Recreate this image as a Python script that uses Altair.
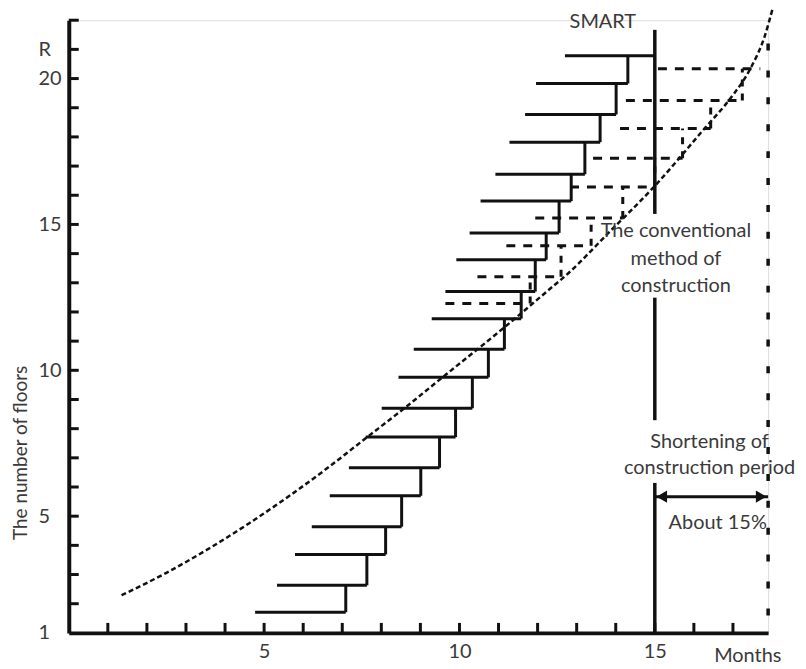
import altair as alt
import pandas as pd

# ---- data ----
# SMART staircase: one horizontal segment per floor (months start/end)
smart_floor = [1.71, 2.63, 3.69, 4.64, 5.70, 6.66, 7.71, 8.70, 9.76, 10.72,
               11.77, 12.70, 13.79, 14.71, 15.80, 16.72, 17.82, 18.77, 19.83, 20.78]
smart_start = [4.77, 5.33, 5.79, 6.22, 6.68, 7.17, 7.60, 8.01, 8.44, 8.83,
               9.29, 9.64, 9.92, 10.26, 10.54, 10.92, 11.28, 11.68, 11.96, 12.70]
smart_end = [7.09, 7.63, 8.11, 8.52, 9.01, 9.49, 9.90, 10.33, 10.74, 11.15,
             11.58, 11.94, 12.22, 12.55, 12.86, 13.21, 13.60, 14.01, 14.31, 15.0]

# Conventional staircase (dashed)
conv_floor = [12.29, 13.21, 14.27, 15.22, 16.28, 17.27, 18.29, 19.25, 20.34]
conv_start = [9.64, 10.46, 11.20, 11.94, 12.83, 13.42, 14.11, 14.26, 15.08]
conv_end = [11.81, 12.60, 13.37, 14.18, 15.0, 15.71, 16.43, 17.24, 17.70]

# Conventional method curve (dashed)
curve_month = [1.35, 2.50, 3.60, 4.62, 5.64, 6.66, 7.60, 8.57, 9.64, 11.12,
               12.27, 12.78, 13.80, 15.0, 16.28, 16.94, 17.45, 17.81, 18.01]
curve_floor = [2.29, 3.06, 3.90, 4.76, 5.69, 6.69, 7.67, 8.68, 9.84, 11.44,
               12.74, 13.32, 14.69, 16.32, 18.30, 19.33, 20.35, 21.44, 22.37]

# SMART completion line (month 15) segments, conventional completion (17.9)
smart_done = 15.0
smart_line_from = [21.67, 12.49, 6.14]
smart_line_to = [15.36, 8.29, 1.0]
conv_done = 17.9
conv_line_top = 21.2
arrow_floor = 5.67

x_tick_months = list(range(1, 18))
y_tick_floors = list(range(2, 23))
y_label_values = [1, 5, 10, 15, 20, 21]
x_label_values = [5, 10, 15]

texts = ["SMART", "The conventional", "method of", "construction",
         "Shortening of", "construction period", "About 15%", "Months"]
text_month = [13.67, 15.54, 15.54, 15.54, 16.40, 16.40, 16.61, 17.38]
text_floor = [21.95, 14.78, 13.82, 12.90, 7.54, 6.66, 4.78, 0.20]

# ---- build ----
FONT = "Lato"
LINE = "#111111"
TXT = "#3a3a3a"

xs = alt.Scale(domain=[0, 17.9], nice=False, zero=False)
ys = alt.Scale(domain=[1, 22], nice=False, zero=False)

xaxis = alt.Axis(values=x_label_values, ticks=False, tickSize=0, grid=False,
                 domainWidth=4, domainColor=LINE, labelFont=FONT,
                 labelFontSize=20, labelColor=TXT, labelPadding=9, title=None)
yaxis = alt.Axis(values=y_label_values, ticks=False, tickSize=0, grid=False,
                 domainWidth=4, domainColor=LINE, labelFont=FONT,
                 labelFontSize=20, labelColor=TXT, labelPadding=31,
                 labelAlign="left",
                 labelExpr="datum.value == 21 ? 'R' : datum.label", title=None)

smart_df = pd.DataFrame({"f": smart_floor, "s": smart_start, "e": smart_end})
smart_vert = pd.DataFrame({"x": smart_end[:-1], "f1": smart_floor[:-1],
                           "f2": smart_floor[1:]})
conv_df = pd.DataFrame({"f": conv_floor, "s": conv_start, "e": conv_end})
conv_vert = pd.DataFrame({"x": conv_end[:-1], "f1": conv_floor[:-1],
                          "f2": conv_floor[1:]})
curve_df = pd.DataFrame({"m": curve_month, "f": curve_floor})
smart_line_df = pd.DataFrame({"x": [smart_done] * 3, "f1": smart_line_from,
                              "f2": smart_line_to})
conv_line_df = pd.DataFrame({"x": [conv_done], "f1": [conv_line_top], "f2": [1.0]})
arrow_df = pd.DataFrame({"s": [smart_done], "e": [conv_done], "f": [arrow_floor]})
xt_df = pd.DataFrame({"m": x_tick_months})
yt_df = pd.DataFrame({"f": y_tick_floors})
text_df = pd.DataFrame({"t": texts, "m": text_month, "f": text_floor})
ytitle_df = pd.DataFrame({"t": ["The number of floors"], "m": [-1.21], "f": [7.17]})

base_axes = alt.Chart(smart_df).mark_rule(color=LINE, strokeWidth=3).encode(
    x=alt.X("s:Q", scale=xs, axis=xaxis),
    x2="e:Q",
    y=alt.Y("f:Q", scale=ys, axis=yaxis),
)

smart_v = alt.Chart(smart_vert).mark_rule(color=LINE, strokeWidth=3).encode(
    x=alt.X("x:Q", scale=xs), y=alt.Y("f1:Q", scale=ys), y2="f2:Q")

conv_h = alt.Chart(conv_df).mark_rule(color=LINE, strokeWidth=3,
                                      strokeDash=[9, 8]).encode(
    x=alt.X("s:Q", scale=xs), x2="e:Q", y=alt.Y("f:Q", scale=ys))

conv_v = alt.Chart(conv_vert).mark_rule(color=LINE, strokeWidth=3,
                                        strokeDash=[7, 7]).encode(
    x=alt.X("x:Q", scale=xs), y=alt.Y("f1:Q", scale=ys), y2="f2:Q")

curve = alt.Chart(curve_df).mark_line(color=LINE, strokeWidth=2.5,
                                      strokeDash=[5, 3],
                                      interpolate="monotone").encode(
    x=alt.X("m:Q", scale=xs), y=alt.Y("f:Q", scale=ys))

smart_line = alt.Chart(smart_line_df).mark_rule(color=LINE, strokeWidth=3.5).encode(
    x=alt.X("x:Q", scale=xs), y=alt.Y("f1:Q", scale=ys), y2="f2:Q")

conv_line = alt.Chart(conv_line_df).mark_rule(color=LINE, strokeWidth=3.5,
                                              strokeDash=[7, 20]).encode(
    x=alt.X("x:Q", scale=xs), y=alt.Y("f1:Q", scale=ys), y2="f2:Q")

arrow = alt.Chart(arrow_df).mark_rule(color=LINE, strokeWidth=3).encode(
    x=alt.X("s:Q", scale=xs), x2="e:Q", y=alt.Y("f:Q", scale=ys))
head_l = alt.Chart(arrow_df).mark_point(shape="triangle-left", filled=True,
                                        color=LINE, size=150, opacity=1).encode(
    x=alt.X("s:Q", scale=xs), y=alt.Y("f:Q", scale=ys), xOffset=alt.value(7))
head_r = alt.Chart(arrow_df).mark_point(shape="triangle-right", filled=True,
                                        color=LINE, size=150, opacity=1).encode(
    x=alt.X("e:Q", scale=xs), y=alt.Y("f:Q", scale=ys), xOffset=alt.value(-7))

xticks = alt.Chart(xt_df).mark_rule(color=LINE, strokeWidth=3).encode(
    x=alt.X("m:Q", scale=xs), y=alt.value(615), y2=alt.value(605))
yticks = alt.Chart(yt_df).mark_rule(color=LINE, strokeWidth=3).encode(
    y=alt.Y("f:Q", scale=ys), x=alt.value(0), x2=alt.value(10))

labels = alt.Chart(text_df).mark_text(font=FONT, fontSize=20, color=TXT).encode(
    x=alt.X("m:Q", scale=xs), y=alt.Y("f:Q", scale=ys), text="t:N")
ytitle = alt.Chart(ytitle_df).mark_text(font=FONT, fontSize=19, color=TXT,
                                        angle=270).encode(
    x=alt.X("m:Q", scale=xs), y=alt.Y("f:Q", scale=ys), text="t:N")

chart = alt.layer(
    base_axes, smart_v, conv_h, conv_v, curve, smart_line, conv_line,
    arrow, head_l, head_r, xticks, yticks, labels, ytitle
).properties(
    width=702, height=615,
    padding={"left": 61, "top": 11, "right": 30, "bottom": 35},
    autosize=alt.AutoSizeParams(type="none"),
).configure_view(stroke=None).configure(background="white")

chart.save("out.html", embed_options={"renderer": "svg", "actions": False})
